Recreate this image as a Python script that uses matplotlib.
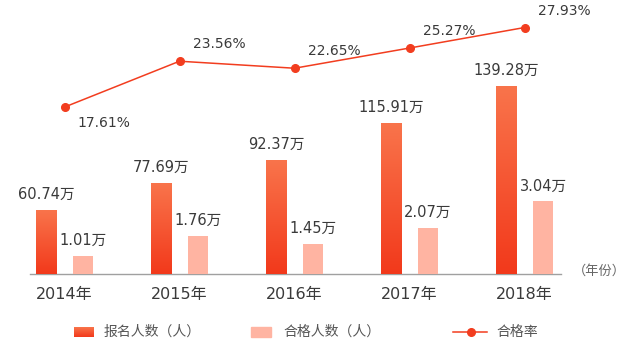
import numpy as np
import matplotlib
matplotlib.use("Agg")
import matplotlib.pyplot as plt
from matplotlib.colors import LinearSegmentedColormap
from matplotlib.patches import Rectangle
from matplotlib.lines import Line2D

plt.rcParams['font.family'] = ['DejaVu Sans', 'Noto Sans CJK SC']

# data (万人 / %)
years = ['2014年', '2015年', '2016年', '2017年', '2018年']
applicants = [60.74, 77.69, 92.37, 115.91, 139.28]
passed = [1.01, 1.76, 1.45, 2.07, 3.04]
pass_rate = [17.61, 23.56, 22.65, 25.27, 27.93]

W, H = 626, 350
fig = plt.figure(figsize=(W / 100, H / 100), dpi=100)


def fx(px):
    return px / W


def fy(py):
    return 1 - py / H


RED_TOP = '#F9744B'
RED_BOT = '#F2391B'
PINK = '#FFB4A2'
LINE = '#F23D1F'
TXT = '#3A3A3A'
grad_cmap = LinearSegmentedColormap.from_list('bar_grad', [RED_BOT, RED_TOP])
grad = np.linspace(0, 1, 256).reshape(-1, 1)

rect = [fx(30), fy(274), (561 - 30) / W, 274 / H]
ax = fig.add_axes(rect)
ax_p = ax.twinx()
ax_r = ax.twinx()

x = np.arange(len(years))
xlim = (-0.3, 4.317)
off, bw = 0.161, 0.174
ylim_a = (20.2, 193.9)
ylim_p = (0.35, 10.5)
ylim_r = (-4.04, 31.5)

# applicants: gradient bars
bars = ax.bar(x - off, applicants, width=bw, color=RED_BOT, zorder=2)
for b, v in zip(bars, applicants):
    x0 = b.get_x()
    im = ax.imshow(grad, extent=[x0, x0 + bw, ylim_a[0], v], origin='lower',
                   cmap=grad_cmap, aspect='auto', zorder=3)
    im.set_clip_path(b)
    ax.annotate(f'{v:.2f}万', (b.get_x() + bw / 2, v), xytext=(0, 11),
                textcoords='offset pixels', ha='center', va='baseline',
                fontsize=10.5, color=TXT)

# passed candidates
pbars = ax_p.bar(x + off, passed, width=bw, color=PINK, zorder=2)
for b, v in zip(pbars, passed):
    ax_p.annotate(f'{v:.2f}万', (b.get_x() + bw / 2, v), xytext=(0, 11),
                  textcoords='offset pixels', ha='center', va='baseline',
                  fontsize=10.5, color=TXT)

# pass rate line
ax_r.plot(x, pass_rate, color=LINE, lw=1.1, marker='o', ms=5.5,
          mfc=LINE, mec=LINE, zorder=4)
for i, v in enumerate(pass_rate):
    if i == 0:
        ax_r.annotate(f'{v:.2f}%', (x[i], v), xytext=(13, -9),
                      textcoords='offset pixels', ha='left', va='top',
                      fontsize=10, color=TXT)
    else:
        ax_r.annotate(f'{v:.2f}%', (x[i], v), xytext=(13, 13),
                      textcoords='offset pixels', ha='left', va='baseline',
                      fontsize=10, color=TXT)

for a, yl in ((ax, ylim_a), (ax_p, ylim_p), (ax_r, ylim_r)):
    a.set_xlim(*xlim)
    a.set_ylim(*yl)
    a.yaxis.set_visible(False)
    for s in a.spines.values():
        s.set_visible(False)
    a.patch.set_visible(False)

ax.spines['bottom'].set_visible(True)
ax.spines['bottom'].set_color('#A0A0A0')
ax.spines['bottom'].set_linewidth(1)
ax.set_xticks(x, years)
ax.tick_params(axis='x', length=0, pad=9, labelsize=11.5, labelcolor=TXT)

fig.text(fx(573), fy(271), '（年份）', ha='left', va='center',
         fontsize=9.5, color='#666666', family=['Noto Sans CJK SC'])

# legend
lax = fig.add_axes([fx(74), fy(337), 20 / W, 10 / H])
lax.imshow(grad, origin='lower', cmap=grad_cmap, aspect='auto')
lax.axis('off')
fig.add_artist(Rectangle((fx(251), fy(337)), 20 / W, 10 / H,
                         transform=fig.transFigure, color=PINK))
fig.add_artist(Line2D([fx(453), fx(487)], [fy(332), fy(332)],
                      transform=fig.transFigure, color=LINE, lw=1.1))
fig.add_artist(Line2D([fx(471)], [fy(332)], transform=fig.transFigure,
                      marker='o', ms=5.5, color=LINE))
for px, label in ((104, '报名人数（人）'), (283, '合格人数（人）'), (496, '合格率')):
    fig.text(fx(px), fy(332), label, ha='left', va='center', fontsize=10,
             color='#555555', family=['Noto Sans CJK SC'])

fig.savefig('out.png', dpi=100)
